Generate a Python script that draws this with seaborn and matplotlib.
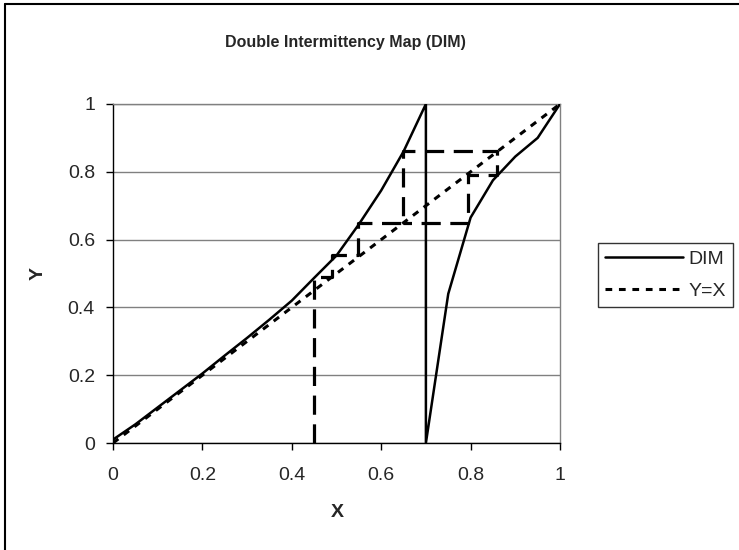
import pandas as pd
import matplotlib.pyplot as plt
import seaborn as sns
from matplotlib.lines import Line2D

# DIM map: left branch up to x=0.7, then drop to 0 and right branch
dim_x = [0.0, 0.05, 0.1, 0.15, 0.2, 0.25, 0.3, 0.35, 0.4, 0.45, 0.5, 0.55, 0.6, 0.65, 0.7,
         0.7, 0.75, 0.8, 0.85, 0.9, 0.95, 1.0]
dim_y = [0.01, 0.055, 0.105, 0.155, 0.205, 0.258, 0.31, 0.364, 0.42, 0.487, 0.553, 0.645, 0.745, 0.86, 1.0,
         0.0, 0.44, 0.665, 0.775, 0.845, 0.9, 1.0]

# identity line
diag_x = [0.0, 1.0]
diag_y = [0.0, 1.0]

# cobweb iteration path
web_x = [0.45, 0.45, 0.49, 0.49, 0.548, 0.548, 0.648, 0.648, 0.86, 0.86, 0.795, 0.795, 0.648]
web_y = [0.0, 0.49, 0.49, 0.555, 0.555, 0.648, 0.648, 0.86, 0.86, 0.79, 0.79, 0.648, 0.648]

sns.set_style("white")
plt.rcParams["font.family"] = ["Liberation Sans", "DejaVu Sans"]

fig = plt.figure(figsize=(7.39, 5.5), dpi=100)
ax = fig.add_axes([113 / 739, 107 / 550, 447 / 739, 339 / 550])

df_dim = pd.DataFrame({"x": dim_x, "y": dim_y})
df_diag = pd.DataFrame({"x": diag_x, "y": diag_y})
df_web = pd.DataFrame({"x": web_x, "y": web_y})

sns.lineplot(data=df_web, x="x", y="y", estimator=None, sort=False, ax=ax,
             color="black", lw=2.3, linestyle=(0, (6, 3)), zorder=3)
sns.lineplot(data=df_diag, x="x", y="y", estimator=None, sort=False, ax=ax,
             color="black", lw=2.2, linestyle=(0, (2.2, 2.2)), label="Y=X", zorder=4)
sns.lineplot(data=df_dim, x="x", y="y", estimator=None, sort=False, ax=ax,
             color="black", lw=1.8, label="DIM", zorder=5)

ax.set_xlim(0, 1)
ax.set_ylim(0, 1)
ticks = [0, 0.2, 0.4, 0.6, 0.8, 1]
tick_labels = ["0", "0.2", "0.4", "0.6", "0.8", "1"]
ax.set_xticks(ticks)
ax.set_xticklabels(tick_labels)
ax.set_yticks(ticks)
ax.set_yticklabels(tick_labels)
ax.grid(axis="y", color="#808080", lw=1)
ax.set_axisbelow(True)
ax.tick_params(axis="both", direction="out", length=5, width=1, color="black",
               labelsize=14, bottom=True, left=True)
ax.tick_params(axis="x", pad=12)
ax.tick_params(axis="y", pad=8)
for side in ["left", "bottom"]:
    ax.spines[side].set_color("black")
    ax.spines[side].set_linewidth(1)
for side in ["top", "right"]:
    ax.spines[side].set_color("#808080")
    ax.spines[side].set_linewidth(1)

ax.set_xlabel("X", fontsize=14, fontweight="bold")
ax.set_ylabel("Y", fontsize=14, fontweight="bold")
ax.xaxis.set_label_coords((337 - 113) / 447, (443 - 504) / 339)
ax.yaxis.set_label_coords((47 - 113) / 447, 0.5)
fig.text(345 / 739, 1 - 42 / 550, "Double Intermittency Map (DIM)", fontsize=11.5,
         fontweight="bold", ha="center", va="center")

handles, labels = ax.get_legend_handles_labels()
order = [labels.index("DIM"), labels.index("Y=X")]
leg = ax.legend([handles[i] for i in order], [labels[i] for i in order],
                loc="center left", bbox_to_anchor=(598 / 739, 1 - 275 / 550),
                bbox_transform=fig.transFigure, frameon=True, fancybox=False,
                edgecolor="black", fontsize=14, handlelength=4.0, handletextpad=0.3,
                borderpad=0.35, labelspacing=0.75, borderaxespad=0)
leg.get_frame().set_linewidth(1)

# outer chart border (left and top edges visible)
fig.add_artist(Line2D([5 / 739, 5 / 739], [0, 1 - 4 / 550], transform=fig.transFigure, color="black", lw=1.5))
fig.add_artist(Line2D([5 / 739, 1], [1 - 4 / 550, 1 - 4 / 550], transform=fig.transFigure, color="black", lw=1.5))

fig.savefig("out.png", dpi=100)
